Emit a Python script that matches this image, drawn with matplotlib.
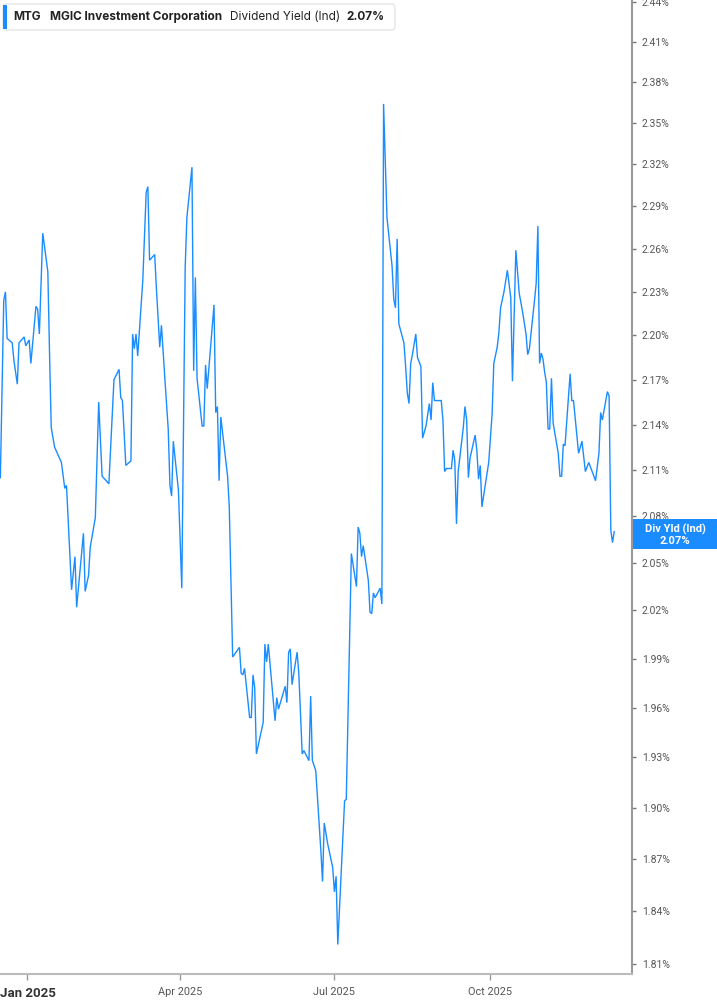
import matplotlib
matplotlib.use("Agg")
import matplotlib.pyplot as plt
import matplotlib.ticker as mticker
from matplotlib.patches import FancyBboxPatch, Rectangle
import pandas as pd

dates = [
    "2024-12-16", "2024-12-18", "2024-12-19", "2024-12-20", "2024-12-23", "2024-12-24",
    "2024-12-26", "2024-12-27", "2024-12-30", "2024-12-31", "2025-01-02", "2025-01-03",
    "2025-01-06", "2025-01-07", "2025-01-08", "2025-01-10", "2025-01-13", "2025-01-14",
    "2025-01-15", "2025-01-17", "2025-01-21", "2025-01-23", "2025-01-24", "2025-01-27",
    "2025-01-29", "2025-01-30", "2025-02-03", "2025-02-04", "2025-02-06", "2025-02-07",
    "2025-02-10", "2025-02-12", "2025-02-14", "2025-02-18", "2025-02-21", "2025-02-24",
    "2025-02-25", "2025-02-26", "2025-02-28", "2025-03-03", "2025-03-04", "2025-03-05",
    "2025-03-06", "2025-03-07", "2025-03-10", "2025-03-12", "2025-03-13", "2025-03-14",
    "2025-03-17", "2025-03-18", "2025-03-20", "2025-03-21", "2025-03-23", "2025-03-25",
    "2025-03-26", "2025-03-27", "2025-03-28", "2025-03-31", "2025-04-02", "2025-04-04",
    "2025-04-05", "2025-04-08", "2025-04-09", "2025-04-10", "2025-04-11", "2025-04-14",
    "2025-04-15", "2025-04-16", "2025-04-17", "2025-04-21", "2025-04-22", "2025-04-23",
    "2025-04-24", "2025-04-25", "2025-04-29", "2025-04-30", "2025-05-02", "2025-05-06",
    "2025-05-07", "2025-05-08", "2025-05-09", "2025-05-12", "2025-05-13", "2025-05-14",
    "2025-05-15", "2025-05-16", "2025-05-20", "2025-05-21", "2025-05-22", "2025-05-23",
    "2025-05-27", "2025-05-28", "2025-05-29", "2025-06-02", "2025-06-03", "2025-06-04",
    "2025-06-05", "2025-06-06", "2025-06-09", "2025-06-10", "2025-06-12", "2025-06-13",
    "2025-06-16", "2025-06-17", "2025-06-18", "2025-06-20", "2025-06-23", "2025-06-24",
    "2025-06-25", "2025-06-27", "2025-06-30", "2025-07-01", "2025-07-02", "2025-07-03",
    "2025-07-05", "2025-07-07", "2025-07-08", "2025-07-11", "2025-07-14", "2025-07-15",
    "2025-07-16", "2025-07-17", "2025-07-18", "2025-07-21", "2025-07-22", "2025-07-23",
    "2025-07-24", "2025-07-25", "2025-07-28", "2025-07-29", "2025-07-30", "2025-08-01",
    "2025-08-04", "2025-08-05", "2025-08-06", "2025-08-07", "2025-08-08", "2025-08-11",
    "2025-08-12", "2025-08-13", "2025-08-14", "2025-08-15", "2025-08-16", "2025-08-18",
    "2025-08-19", "2025-08-20", "2025-08-21", "2025-08-22", "2025-08-24", "2025-08-26",
    "2025-08-27", "2025-08-28", "2025-08-29", "2025-09-02", "2025-09-03", "2025-09-04",
    "2025-09-05", "2025-09-08", "2025-09-09", "2025-09-10", "2025-09-11", "2025-09-12",
    "2025-09-15", "2025-09-16", "2025-09-17", "2025-09-18", "2025-09-19", "2025-09-22",
    "2025-09-23", "2025-09-24", "2025-09-25", "2025-09-26", "2025-09-30", "2025-10-02",
    "2025-10-03", "2025-10-05", "2025-10-06", "2025-10-07", "2025-10-09", "2025-10-11",
    "2025-10-13", "2025-10-14", "2025-10-16", "2025-10-18", "2025-10-20", "2025-10-22",
    "2025-10-23", "2025-10-24", "2025-10-27", "2025-10-28", "2025-10-29", "2025-10-30",
    "2025-10-31", "2025-11-01", "2025-11-02", "2025-11-03", "2025-11-04", "2025-11-05",
    "2025-11-06", "2025-11-07", "2025-11-10", "2025-11-11", "2025-11-12", "2025-11-13",
    "2025-11-14", "2025-11-17", "2025-11-18", "2025-11-19", "2025-11-22", "2025-11-24",
    "2025-11-26", "2025-11-28", "2025-12-02", "2025-12-04", "2025-12-05", "2025-12-06",
    "2025-12-09", "2025-12-10", "2025-12-11", "2025-12-12", "2025-12-13",
]

div_yield = [
    2.105, 2.224, 2.230, 2.198, 2.195, 2.183,
    2.167, 2.195, 2.199, 2.193, 2.197, 2.181,
    2.220, 2.218, 2.201, 2.271, 2.244, 2.188,
    2.138, 2.125, 2.115, 2.098, 2.100, 2.033,
    2.054, 2.022, 2.069, 2.032, 2.042, 2.060,
    2.079, 2.155, 2.106, 2.101, 2.170, 2.177,
    2.158, 2.156, 2.113, 2.116, 2.201, 2.191,
    2.201, 2.186, 2.238, 2.300, 2.304, 2.252,
    2.256, 2.233, 2.192, 2.207, 2.171, 2.137,
    2.100, 2.093, 2.129, 2.097, 2.034, 2.247,
    2.282, 2.318, 2.176, 2.240, 2.171, 2.139,
    2.139, 2.180, 2.164, 2.221, 2.148, 2.152,
    2.103, 2.145, 2.106, 2.086, 1.991, 1.997,
    1.981, 1.980, 1.984, 1.954, 1.954, 1.980,
    1.972, 1.932, 1.951, 1.999, 1.988, 1.999,
    1.952, 1.966, 1.959, 1.973, 1.963, 1.994,
    1.996, 1.974, 1.994, 1.981, 1.932, 1.934,
    1.928, 1.967, 1.928, 1.922, 1.875, 1.857,
    1.891, 1.879, 1.865, 1.851, 1.860, 1.821,
    1.862, 1.904, 1.905, 2.056, 2.035, 2.073,
    2.069, 2.054, 2.061, 2.039, 2.019, 2.018,
    2.031, 2.028, 2.034, 2.024, 2.364, 2.282,
    2.248, 2.225, 2.219, 2.267, 2.208, 2.195,
    2.179, 2.161, 2.154, 2.181, 2.187, 2.201,
    2.185, 2.182, 2.179, 2.131, 2.139, 2.154,
    2.143, 2.168, 2.156, 2.156, 2.143, 2.109,
    2.111, 2.111, 2.123, 2.116, 2.075, 2.109,
    2.138, 2.152, 2.143, 2.105, 2.118, 2.133,
    2.123, 2.104, 2.113, 2.086, 2.115, 2.147,
    2.181, 2.192, 2.202, 2.219, 2.230, 2.245,
    2.226, 2.169, 2.259, 2.229, 2.216, 2.201,
    2.187, 2.191, 2.224, 2.236, 2.276, 2.181,
    2.188, 2.184, 2.175, 2.168, 2.137, 2.137,
    2.171, 2.141, 2.121, 2.106, 2.106, 2.127,
    2.126, 2.174, 2.156, 2.156, 2.121, 2.129,
    2.109, 2.115, 2.103, 2.121, 2.148, 2.143,
    2.162, 2.159, 2.071, 2.063, 2.070,
]

y_ticks = [2.44, 2.41, 2.38, 2.35, 2.32, 2.29, 2.26, 2.23, 2.20, 2.17, 2.14,
           2.11, 2.08, 2.05, 2.02, 1.99, 1.96, 1.93, 1.90, 1.87, 1.84, 1.81]
x_tick_dates = ["2025-01-01", "2025-04-01", "2025-07-01", "2025-10-01"]
x_tick_labels = ["Jan 2025", "Apr 2025", "Jul 2025", "Oct 2025"]

ticker_sym = "MTG"
company = "MGIC Investment Corporation"
metric = "Dividend Yield (Ind)"
last_label = "2.07%"

BLUE = "#1a8cff"
W, H = 717, 1005

plt.rcParams["font.family"] = ["Inter", "DejaVu Sans"]

fig = plt.figure(figsize=(W / 100, H / 100), dpi=100)
fig.patch.set_facecolor("white")
ax = fig.add_axes([0, 31 / H, 632 / W, 974 / H])

x = pd.to_datetime(dates)
ax.plot(x, div_yield, color=BLUE, lw=1.0, solid_joinstyle="miter")

ax.set_yscale("log")
ax.set_ylim(1.8044, 2.4415)
ax.set_xlim(pd.Timestamp("2024-12-15 19:00"), pd.Timestamp("2025-12-23 12:00"))

ax.yaxis.set_major_locator(mticker.FixedLocator(y_ticks))
ax.yaxis.set_minor_locator(mticker.NullLocator())
ax.yaxis.set_major_formatter(mticker.FuncFormatter(lambda v, p: f"{v:.2f}%"))
ax.yaxis.tick_right()
ax.tick_params(axis="y", which="major", direction="out", length=3, width=1,
               color="#777777", labelcolor="#555555", labelsize=7.5, pad=4)
for lab in ax.get_yticklabels():
    lab.set_fontfamily(["Roboto", "DejaVu Sans"])

ax.set_xticks(pd.to_datetime(x_tick_dates))
ax.set_xticklabels(x_tick_labels)
ax.tick_params(axis="x", which="major", direction="out", length=4, width=1,
               color="#999999", labelcolor="#555555", labelsize=7.8, pad=5)
ax.xaxis.set_minor_locator(mticker.NullLocator())
for i, lab in enumerate(ax.get_xticklabels()):
    lab.set_fontfamily(["Roboto", "DejaVu Sans"])
    if i == 0:
        lab.set_fontweight("bold")
        lab.set_fontsize(9.5)
        lab.set_color("#333333")

for s in ["left", "top"]:
    ax.spines[s].set_visible(False)
ax.spines["right"].set_color("#999999")
ax.spines["right"].set_linewidth(1.5)
ax.spines["bottom"].set_color("#bbbbbb")
ax.spines["bottom"].set_linewidth(1.5)

# legend box (top-left)
def fx(px):
    return px / W

def fy(py):
    return 1 - py / H

box = FancyBboxPatch((fx(3), fy(30)), fx(395) - fx(3), fy(4) - fy(30),
                     boxstyle="round,pad=0,rounding_size=0.004",
                     transform=fig.transFigure, facecolor="white",
                     edgecolor="#e6e6e6", lw=1.0, zorder=5)
fig.patches.append(box)
bar = Rectangle((fx(3), fy(29)), fx(3.5), fy(5) - fy(29), transform=fig.transFigure,
                facecolor=BLUE, edgecolor="none", zorder=6)
fig.patches.append(bar)
ty = fy(17)
LFS = 8.5
fig.text(fx(13), ty, ticker_sym, fontsize=LFS, fontweight="bold", color="#222222",
         va="center", ha="left", zorder=7)
fig.text(fx(50), ty, company, fontsize=LFS, fontweight="bold", color="#222222",
         va="center", ha="left", zorder=7)
fig.text(fx(230), ty, metric, fontsize=LFS, color="#222222",
         va="center", ha="left", zorder=7)
fig.text(fx(346), ty, last_label, fontsize=LFS, fontweight="bold", color="#222222",
         va="center", ha="left", zorder=7)

# right-side value tag
tag = Rectangle((fx(633), fy(549)), fx(717) - fx(633), fy(519) - fy(549),
                transform=fig.transFigure, facecolor=BLUE, edgecolor="none", zorder=6)
fig.patches.append(tag)
fig.text(fx(675), fy(529), "Div Yld (Ind)", fontsize=8, fontweight="bold", color="white",
         ha="center", va="center", zorder=7, family=["Roboto", "DejaVu Sans"])
fig.text(fx(675), fy(540.5), last_label, fontsize=8, fontweight="bold", color="white",
         ha="center", va="center", zorder=7, family=["Roboto", "DejaVu Sans"])

fig.savefig("out.png", dpi=100, facecolor="white")
